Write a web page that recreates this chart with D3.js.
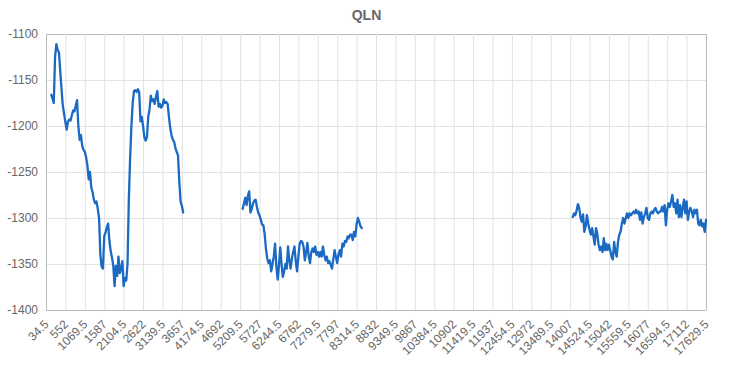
<!DOCTYPE html>
<html>
<head>
<meta charset="utf-8">
<script src="https://cdn.jsdelivr.net/npm/d3@7/dist/d3.min.js"></script>
<style>
  html, body { margin: 0; padding: 0; background: #fff; }
  svg { display: block; font-family: "Liberation Sans", Arial, sans-serif; }
</style>
</head>
<body>
<svg id="chart" width="733" height="368"></svg>
<script>
// ---- data ----
const title = "QLN";
const categoryStep = 34.5;
const categoryCount = 511;            // categories 34.5, 69, ... , 17629.5
const labelEvery = 15;                // one tick label every 15 categories
const yTicks = [-1400, -1350, -1300, -1250, -1200, -1150, -1100];

// segment 1 starts at category index 4
const seg1Start = 4;
const seg1Values = [-1166,-1170,-1175,-1125,-1111,-1117,-1120,-1140,-1160,-1178,-1187,-1196,-1204,-1195,-1193,-1194,-1188,-1183,-1184,-1178,-1172,-1200,-1215,-1210,-1222,-1226,-1228,-1234,-1243,-1258,-1250,-1267,-1272,-1280,-1284,-1282,-1290,-1300,-1340,-1353,-1355,-1320,-1316,-1310,-1306,-1325,-1336,-1343,-1352,-1374,-1352,-1363,-1342,-1360,-1355,-1347,-1374,-1365,-1368,-1350,-1280,-1235,-1200,-1175,-1162,-1161,-1163,-1160,-1163,-1195,-1190,-1200,-1212,-1216,-1212,-1190,-1182,-1167,-1173,-1171,-1176,-1168,-1162,-1179,-1176,-1180,-1178,-1171,-1175,-1174,-1176,-1190,-1202,-1210,-1215,-1217,-1224,-1228,-1232,-1260,-1282,-1287,-1294];

// segment 2 starts at category index 152
const seg2Start = 152;
const seg2Values = [-1290,-1284,-1278,-1286,-1276,-1271,-1294,-1290,-1284,-1281,-1280,-1288,-1294,-1297,-1302,-1307,-1308,-1318,-1334,-1344,-1349,-1346,-1358,-1350,-1342,-1328,-1352,-1367,-1352,-1332,-1350,-1364,-1358,-1350,-1355,-1331,-1346,-1355,-1344,-1337,-1331,-1347,-1358,-1342,-1328,-1325,-1326,-1331,-1346,-1337,-1327,-1342,-1349,-1337,-1333,-1337,-1331,-1340,-1337,-1342,-1337,-1342,-1331,-1340,-1346,-1342,-1349,-1347,-1351,-1355,-1345,-1335,-1342,-1349,-1340,-1335,-1342,-1328,-1331,-1325,-1326,-1320,-1322,-1318,-1318,-1324,-1315,-1320,-1307,-1300,-1304,-1309,-1311];

// segment 3 starts at category index 407
const seg3Start = 407;
const seg3Values = [-1299,-1295,-1297,-1292,-1285,-1289,-1299,-1304,-1296,-1315,-1309,-1297,-1306,-1313,-1318,-1311,-1320,-1329,-1311,-1317,-1329,-1335,-1331,-1337,-1322,-1335,-1328,-1335,-1329,-1335,-1342,-1345,-1326,-1337,-1342,-1326,-1318,-1315,-1306,-1300,-1306,-1300,-1295,-1300,-1295,-1297,-1295,-1293,-1295,-1291,-1295,-1293,-1302,-1294,-1306,-1299,-1295,-1289,-1300,-1302,-1295,-1293,-1295,-1291,-1289,-1293,-1295,-1293,-1293,-1288,-1293,-1286,-1308,-1291,-1284,-1288,-1282,-1275,-1288,-1284,-1295,-1280,-1299,-1286,-1299,-1289,-1280,-1295,-1282,-1302,-1293,-1289,-1293,-1299,-1291,-1295,-1291,-1306,-1308,-1302,-1309,-1306,-1315,-1302];

// ---- build table ----
const categories = d3.range(categoryCount).map(i => +(categoryStep * (i + 1)).toFixed(1));
const values = new Array(categoryCount).fill(null);
[[seg1Start, seg1Values], [seg2Start, seg2Values], [seg3Start, seg3Values]].forEach(([s, arr]) => {
  arr.forEach((v, k) => { if (s + k < categoryCount) values[s + k] = v; });
});
const data = categories.map((c, i) => ({ i, c, v: values[i] }));

// ---- layout ----
const svg = d3.select("#chart");
const W = 733, H = 368;
const m = { left: 46, right: 27, top: 34, bottom: 58 };
const plotW = W - m.left - m.right;
const plotH = H - m.top - m.bottom;

const x = d3.scaleLinear().domain([0, categoryCount - 1]).range([m.left, m.left + plotW]);
const y = d3.scaleLinear().domain([-1400, -1100]).range([m.top + plotH, m.top]);

// title
svg.append("text")
  .attr("x", W / 2).attr("y", 20)
  .attr("text-anchor", "middle")
  .attr("font-size", 14).attr("font-weight", "bold")
  .attr("fill", "#666")
  .text(title);

// grid - horizontal
const yAxis = d3.axisLeft(y).tickValues(yTicks).tickSize(-plotW).tickPadding(8).tickFormat(d => String(d));
const gy = svg.append("g").attr("transform", `translate(${m.left},0)`).call(yAxis);
gy.select(".domain").attr("stroke", "#bbb");
gy.selectAll(".tick line").attr("stroke", "#e2e2e2");
gy.selectAll(".tick text").attr("font-size", 12).attr("fill", "#666").attr("font-family", "Liberation Sans, Arial, sans-serif");

// grid - vertical with labels
const tickIdx = d3.range(0, categoryCount, labelEvery);
const xAxis = d3.axisBottom(x).tickValues(tickIdx).tickSize(-plotH).tickFormat(i => String(categories[i]));
const gx = svg.append("g").attr("transform", `translate(0,${m.top + plotH})`).call(xAxis);
gx.select(".domain").attr("stroke", "#bbb");
gx.selectAll(".tick line").attr("stroke", "#e2e2e2");
gx.selectAll(".tick text")
  .attr("font-size", 12).attr("fill", "#666").attr("font-family", "Liberation Sans, Arial, sans-serif")
  .attr("text-anchor", "end")
  .attr("y", 0).attr("dy", "0.35em")
  .attr("transform", "translate(0,12) rotate(-45)");
// keep axis lines on top of grid
gx.select(".domain").raise();
gy.select(".domain").raise();

// line
const line = d3.line()
  .defined(d => d.v !== null)
  .x(d => x(d.i))
  .y(d => y(d.v));

svg.append("path")
  .datum(data)
  .attr("fill", "none")
  .attr("stroke", "#1a6ac4")
  .attr("stroke-width", 2.3)
  .attr("stroke-linejoin", "round")
  .attr("stroke-linecap", "round")
  .attr("d", line);
</script>
</body>
</html>
